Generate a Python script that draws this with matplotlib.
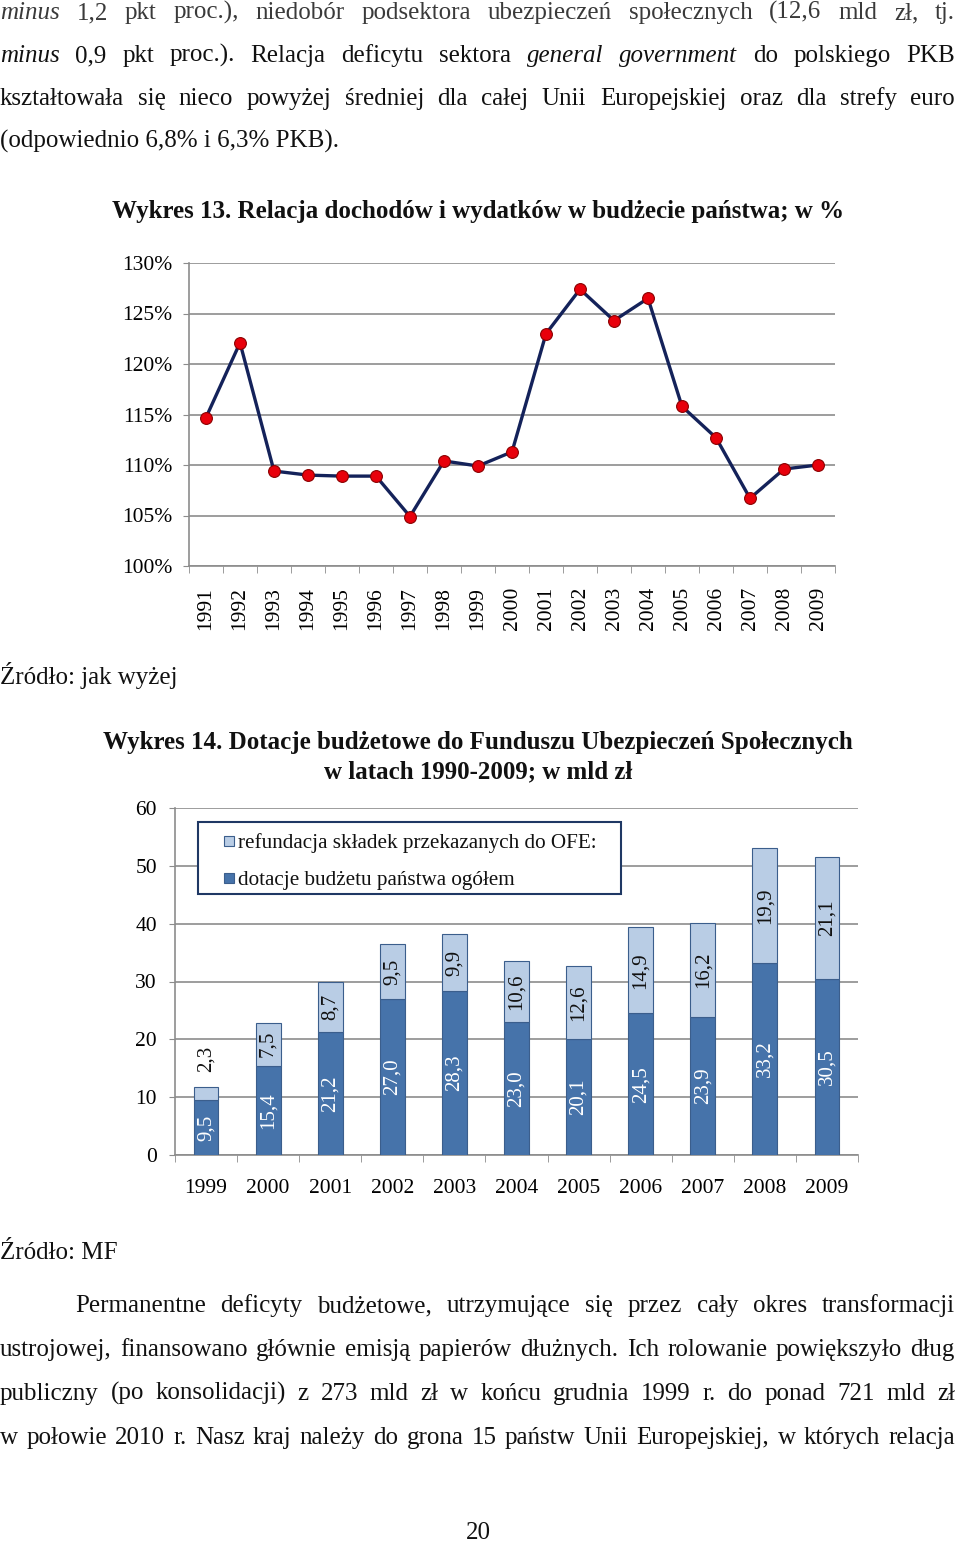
import matplotlib.pyplot as plt
from matplotlib.patches import Rectangle

plt.rcParams['font.family'] = ['Liberation Serif', 'DejaVu Serif']

# Wykres 13
years13 = ['1991', '1992', '1993', '1994', '1995', '1996', '1997', '1998', '1999', '2000',
           '2001', '2002', '2003', '2004', '2005', '2006', '2007', '2008', '2009']
ratio = [114.7, 122.1, 109.4, 109.0, 108.9, 108.9, 104.9, 110.4, 109.9, 111.3,
         123.0, 127.4, 124.3, 126.5, 115.8, 112.7, 106.7, 109.6, 110.0]

# Wykres 14
years14 = ['1999', '2000', '2001', '2002', '2003', '2004', '2005', '2006', '2007', '2008', '2009']
dotacje = [9.5, 15.4, 21.2, 27.0, 28.3, 23.0, 20.1, 24.5, 23.9, 33.2, 30.5]
refundacja = [2.3, 7.5, 8.7, 9.5, 9.9, 10.6, 12.6, 14.9, 16.2, 19.9, 21.1]

W, H = 960, 1543
fig = plt.figure(figsize=(W / 100, H / 100), dpi=100)
renderer = fig.canvas.get_renderer()
FS = 18
TFS = 15.5


def fx(x):
    return x / W


def fy(y):
    return 1 - y / H


def justify(words, y, x0, x1, fs=FS, color='#111111'):
    # words: list of (text, style) pairs, spread evenly between x0 and x1
    objs = []
    for w, st in words:
        t = fig.text(fx(x0), fy(y), w, fontsize=fs, style=st, color=color, va='baseline', ha='left')
        objs.append(t)
    widths = [t.get_window_extent(renderer).width for t in objs]
    gap = (x1 - x0 - sum(widths)) / (len(objs) - 1)
    x = x0
    for t, wd in zip(objs, widths):
        t.set_x(fx(x))
        x += wd + gap


def split(s, italic=()):
    return [(w, 'italic' if w in italic else 'normal') for w in s.split()]


top_lines = [
    ("minus 1,2 pkt proc.), niedobór podsektora ubezpieczeń społecznych (12,6 mld zł, tj.", '#3a3a3a'),
    ("minus 0,9 pkt proc.). Relacja deficytu sektora general government do polskiego PKB", '#111111'),
    ("kształtowała się nieco powyżej średniej dla całej Unii Europejskiej oraz dla strefy euro", '#111111'),
]
for i, (s, c) in enumerate(top_lines):
    justify(split(s, italic=('minus', 'general', 'government')), 19 + 43 * i, 0, 955, color=c)
fig.text(fx(0), fy(148), "(odpowiednio 6,8% i 6,3% PKB).", fontsize=FS, color='#111111', va='baseline')

fig.text(fx(478), fy(218), "Wykres 13. Relacja dochodów i wydatków w budżecie państwa; w %",
         fontsize=FS, fontweight='bold', ha='center', va='baseline', color='#111111')

# ---- line chart ----
ax1 = fig.add_axes([fx(189), fy(566), (835 - 189) / W, (566 - 263) / H])
x13 = range(len(years13))
ax1.plot(x13, ratio, color='#14225A', lw=2.4, zorder=3)
ax1.plot(x13, ratio, 'o', color='#E8000B', mec='#8B0000', mew=0.8, ms=8.5, zorder=4)
ax1.set_xlim(-0.5, len(years13) - 0.5)
ax1.set_ylim(100, 130)
ax1.set_yticks(range(100, 131, 5))
ax1.set_yticklabels([f"{v}%" for v in range(100, 131, 5)], fontsize=TFS)
ax1.set_xticks(list(x13))
ax1.set_xticklabels(years13, rotation=90, fontsize=TFS)
ax1.set_xticks([i - 0.5 for i in range(len(years13) + 1)], minor=True)
ax1.tick_params(axis='x', which='major', length=0, pad=15)
ax1.tick_params(axis='x', which='minor', length=5, color='#8c8c8c')
ax1.tick_params(axis='y', length=4, color='#8c8c8c', pad=8)
ax1.grid(axis='y', color='#8c8c8c', lw=1.2)
ax1.set_axisbelow(True)
for s in ['top', 'right']:
    ax1.spines[s].set_visible(False)
for s in ['left', 'bottom']:
    ax1.spines[s].set_color('#8c8c8c')
    ax1.spines[s].set_linewidth(1.2)

fig.text(fx(0), fy(684), "Źródło: jak wyżej", fontsize=FS, color='#111111', va='baseline')

fig.text(fx(478), fy(749), "Wykres 14. Dotacje budżetowe do Funduszu Ubezpieczeń Społecznych",
         fontsize=FS, fontweight='bold', ha='center', va='baseline', color='#111111')
fig.text(fx(478), fy(778), "w latach 1990-2009; w mld zł",
         fontsize=FS, fontweight='bold', ha='center', va='baseline', color='#111111')

# ---- stacked bar chart ----
dark = '#4673AA'
light = '#B9CDE5'
edge = '#3B5E8C'
ax2 = fig.add_axes([fx(175), fy(1155), (858 - 175) / W, (1155 - 808) / H])
x14 = range(len(years14))
ax2.bar(x14, dotacje, width=0.4, color=dark, edgecolor=edge, lw=0.8, zorder=3)
ax2.bar(x14, refundacja, width=0.4, bottom=dotacje, color=light, edgecolor=edge, lw=0.8, zorder=3)
for i in x14:
    ax2.text(i, dotacje[i] / 2, f"{dotacje[i]:.1f}".replace('.', ','), rotation=90,
             ha='center', va='center', color='white', fontsize=15, zorder=4)
    top = dotacje[i] + refundacja[i]
    lab = f"{refundacja[i]:.1f}".replace('.', ',')
    if refundacja[i] < 4:
        ax2.text(i, top + 2.6, lab, rotation=90, ha='center', va='bottom', color='#111111',
                 fontsize=15, zorder=4)
    else:
        ax2.text(i, dotacje[i] + refundacja[i] / 2, lab, rotation=90, ha='center', va='center',
                 color='#111111', fontsize=15, zorder=4)
ax2.set_xlim(-0.5, len(years14) - 0.5)
ax2.set_ylim(0, 60)
ax2.set_yticks(range(0, 61, 10))
ax2.set_yticklabels([str(v) for v in range(0, 61, 10)], fontsize=TFS)
ax2.set_xticks(list(x14))
ax2.set_xticklabels(years14, fontsize=TFS)
ax2.set_xticks([i - 0.5 for i in range(len(years14) + 1)], minor=True)
ax2.tick_params(axis='x', which='major', length=0, pad=17)
ax2.tick_params(axis='x', which='minor', length=5, color='#8c8c8c')
ax2.tick_params(axis='y', length=4, color='#8c8c8c', pad=9)
ax2.grid(axis='y', color='#8c8c8c', lw=1.2)
ax2.set_axisbelow(True)
for s in ['top', 'right']:
    ax2.spines[s].set_visible(False)
for s in ['left', 'bottom']:
    ax2.spines[s].set_color('#8c8c8c')
    ax2.spines[s].set_linewidth(1.2)

# legend box
fig.add_artist(Rectangle((fx(198), fy(894)), (621 - 198) / W, (894 - 822) / H,
                         transform=fig.transFigure, facecolor='white', edgecolor='#1F3864', lw=1.5, zorder=5))
fig.add_artist(Rectangle((fx(224), fy(846)), 10 / W, 10 / H, transform=fig.transFigure,
                         facecolor=light, edgecolor=edge, lw=0.8, zorder=6))
fig.add_artist(Rectangle((fx(224), fy(883)), 10 / W, 10 / H, transform=fig.transFigure,
                         facecolor=dark, edgecolor=edge, lw=0.8, zorder=6))
fig.text(fx(238), fy(848), "refundacja składek przekazanych do OFE:", fontsize=15.2,
         va='baseline', color='#111111', zorder=7)
fig.text(fx(238), fy(885), "dotacje budżetu państwa ogółem", fontsize=15.2,
         va='baseline', color='#111111', zorder=7)

fig.text(fx(0), fy(1259), "Źródło: MF", fontsize=FS, color='#111111', va='baseline')

bottom_lines = [
    ("Permanentne deficyty budżetowe, utrzymujące się przez cały okres transformacji", 75),
    ("ustrojowej, finansowano głównie emisją papierów dłużnych. Ich rolowanie powiększyło dług", 0),
    ("publiczny (po konsolidacji) z 273 mld zł w końcu grudnia 1999 r. do ponad 721 mld zł", 0),
    ("w połowie 2010 r. Nasz kraj należy do grona 15 państw Unii Europejskiej, w których relacja", 0),
]
for i, (s, x0) in enumerate(bottom_lines):
    justify(split(s), 1312 + 44 * i, x0, 955)

fig.text(fx(478), fy(1539), "20", fontsize=FS, ha='center', va='baseline', color='#111111')

fig.savefig('out.png', dpi=100)
